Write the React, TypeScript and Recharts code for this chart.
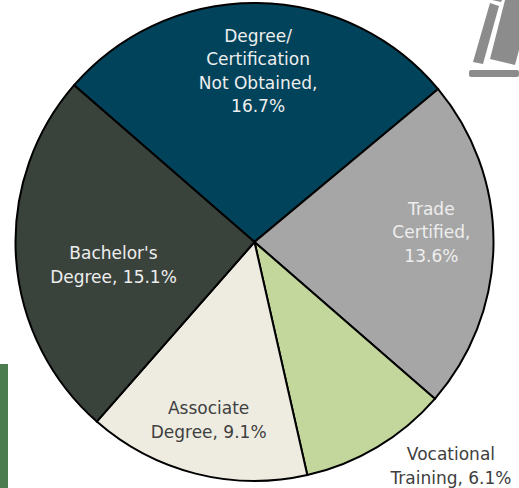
import { Cell, Pie, PieChart } from "recharts";

const categories = [
  "Degree/ Certification Not Obtained",
  "Trade Certified",
  "Vocational Training",
  "Associate Degree",
  "Bachelor's Degree",
];
const shares = [16.7, 13.6, 6.1, 9.1, 15.1];
const labelLines = [
  ["Degree/", "Certification", "Not Obtained,", "16.7%"],
  ["Trade", "Certified,", "13.6%"],
  ["Vocational", "Training, 6.1%"],
  ["Associate", "Degree, 9.1%"],
  ["Bachelor's", "Degree, 15.1%"],
];

const colors = ["#00435a", "#a6a6a6", "#c3d69b", "#eeece1", "#3a423c"];
const labelColors = ["#eeeeee", "#eeeeee", "#404040", "#404040", "#eeeeee"];
// label centre relative to pie centre, as a fraction of the radius
const labelShift = [
  [0.015, -0.715],
  [0.74, -0.04],
  [0.822, 0.937],
  [-0.192, 0.745],
  [-0.59, 0.096],
];

const data = categories.map((name, i) => ({ name, value: shares[i] }));

const LINE_HEIGHT = 23.5;

function SliceLabel({ cx, cy, outerRadius, index }: any) {
  const lines = labelLines[index];
  const x = cx + labelShift[index][0] * outerRadius;
  const y = cy + labelShift[index][1] * outerRadius;
  const top = y - ((lines.length - 1) * LINE_HEIGHT) / 2;
  return (
    <text
      textAnchor="middle"
      dominantBaseline="central"
      fill={labelColors[index]}
      fontSize={17}
      fontFamily="'DejaVu Sans', sans-serif"
      fontWeight={400}
    >
      {lines.map((line, i) => (
        <tspan key={line} x={x} y={top + i * LINE_HEIGHT}>
          {line}
        </tspan>
      ))}
    </text>
  );
}

function Decorations() {
  return (
    <svg width={519} height={488} style={{ position: "absolute", left: 0, top: 0 }}>
      <rect x={0} y={364} width={8} height={124} fill="#4a7c4f" />
      <g fill="#8c8c8c">
        <polygon points="490,3 499,6 483,64 473,62" />
        <polygon points="492,0 502,0 501,2" />
        <polygon points="505,0 519,0 519,50 515,65 490,59" />
        <rect x={469} y={70} width={50} height={7} rx={2} />
      </g>
    </svg>
  );
}

export default function App() {
  return (
    <div style={{ position: "absolute", left: 0, top: 0, width: 519, height: 488, background: "#fff" }}>
      <Decorations />
      <div style={{ position: "absolute", left: 0, top: 0 }}>
        <PieChart width={519} height={488} margin={{ top: 0, right: 0, bottom: 0, left: 0 }}>
          <Pie
            data={data}
            dataKey="value"
            nameKey="name"
            cx={254.5}
            cy={242}
            outerRadius={239}
            startAngle={139}
            endAngle={-221}
            stroke="#000"
            strokeWidth={2}
            label={SliceLabel}
            labelLine={false}
            isAnimationActive={false}
          >
            {data.map((d, i) => (
              <Cell key={d.name} fill={colors[i]} />
            ))}
          </Pie>
        </PieChart>
      </div>
    </div>
  );
}
